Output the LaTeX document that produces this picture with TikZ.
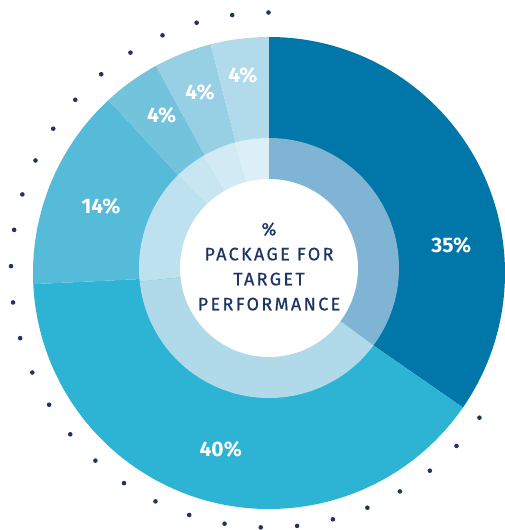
\documentclass[tikz,border=0pt]{standalone}
\usepackage{fontspec}
\setmainfont{Fira Sans}
\usetikzlibrary{calc}
\definecolor{navy}{HTML}{1C3564}
\definecolor{oA}{HTML}{0077A8}
\definecolor{oB}{HTML}{2DB3D3}
\definecolor{oC}{HTML}{55BBD8}
\definecolor{oD}{HTML}{73C3DD}
\definecolor{oE}{HTML}{97CFE4}
\definecolor{oF}{HTML}{B1DBEB}
\definecolor{iA}{HTML}{80B4D4}
\definecolor{iB}{HTML}{B0DAEA}
\definecolor{iC}{HTML}{BDE1EE}
\definecolor{iD}{HTML}{C8E6F1}
\definecolor{iE}{HTML}{D2EAF4}
\definecolor{iF}{HTML}{DCEFF7}
\begin{document}
\begin{tikzpicture}[x=1pt, y=1pt, line join=round, line cap=round,
  pct/.style={text=white, font=\fontsize{21}{24}\selectfont\bfseries},
  title/.style={text=navy, align=center, font=\fontsize{18}{25}\selectfont\addfontfeatures{FakeBold=0.6,LetterSpace=13}}]
\useasboundingbox (-269,-257) rectangle (236,273);
% Bán kính: vòng ngoài, vòng trong, lỗ trắng, vòng chấm
\def\R{236}
\def\Ri{130}
\def\r{89}
\def\Rd{257.5}
% Vòng ngoài (các hình quạt)
\fill[oA] (0,0) -- (90:\R) arc[start angle=90, end angle=-34.75, radius=\R] -- cycle;
\fill[oB] (0,0) -- (-34.75:\R) arc[start angle=-34.75, end angle=-177.3, radius=\R] -- cycle;
\fill[oC] (0,0) -- (182.7:\R) arc[start angle=182.7, end angle=132.9, radius=\R] -- cycle;
\fill[oD] (0,0) -- (132.9:\R) arc[start angle=132.9, end angle=118.6, radius=\R] -- cycle;
\fill[oE] (0,0) -- (118.6:\R) arc[start angle=118.6, end angle=104.3, radius=\R] -- cycle;
\fill[oF] (0,0) -- (104.3:\R) arc[start angle=104.3, end angle=90, radius=\R] -- cycle;
% Vòng trong (lệch lên một chút)
\begin{scope}[shift={(0,5)}]
\fill[iA] (0,0) -- (90:\Ri) arc[start angle=90, end angle=-36.5, radius=\Ri] -- cycle;
\fill[iB] (0,0) -- (-36.5:\Ri) arc[start angle=-36.5, end angle=-174, radius=\Ri] -- cycle;
\fill[iC] (0,0) -- (186:\Ri) arc[start angle=186, end angle=134.5, radius=\Ri] -- cycle;
\fill[iD] (0,0) -- (134.5:\Ri) arc[start angle=134.5, end angle=120.5, radius=\Ri] -- cycle;
\fill[iE] (0,0) -- (120.5:\Ri) arc[start angle=120.5, end angle=105.5, radius=\Ri] -- cycle;
\fill[iF] (0,0) -- (105.5:\Ri) arc[start angle=105.5, end angle=90, radius=\Ri] -- cycle;
\fill[white] (0,0) circle (\r);
\end{scope}
% Vòng chấm bên ngoài
\foreach \i in {0,...,29}
  \fill[navy] ($(-0.5,3)+({90+\i*235/29}:\Rd)$) circle (2.3);
% Nhãn phần trăm
\node[pct] (p35) at (182.3,27.7) {35\%};
\node[pct] (p40) at (-48.3,-176.5) {40\%};
\node[pct] (p14) at (-168,66.3) {14\%};
\node[pct] (p4a) at (-107.3,157.5) {4\%};
\node[pct] (p4b) at (-69,181) {4\%};
\node[pct] (p4c) at (-26.2,197.8) {4\%};
% Chữ ở giữa
\node[title] (center) at (0,6.5) {\%\\PACKAGE FOR\\TARGET\\PERFORMANCE};
\end{tikzpicture}
\end{document}
